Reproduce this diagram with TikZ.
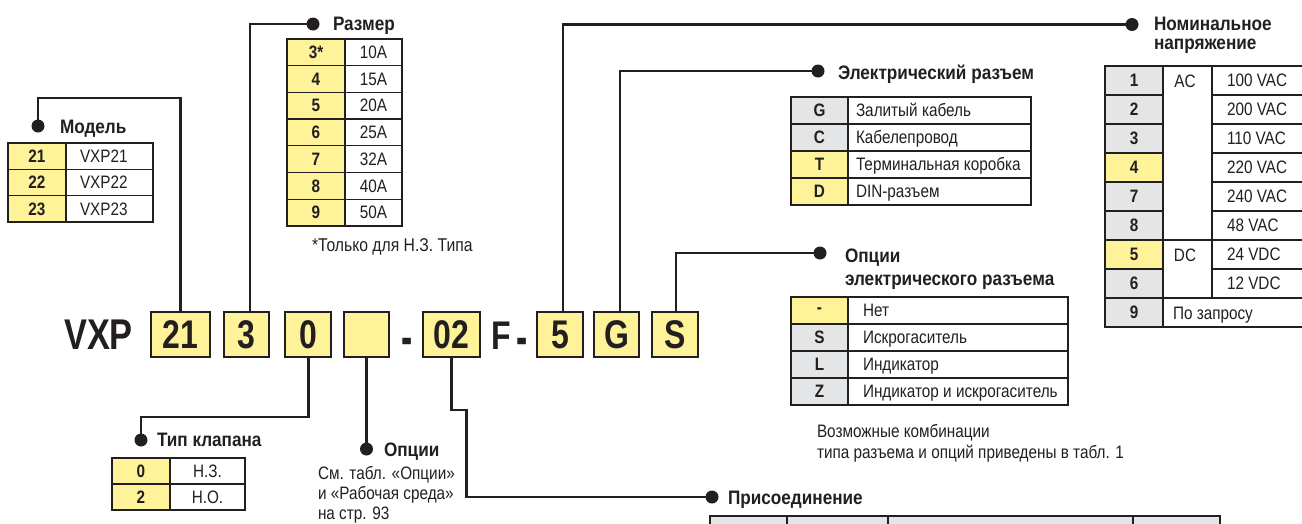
\documentclass[tikz,border=0pt]{standalone}
\usepackage{fontspec}
\setmainfont{Liberation Sans}
\newfontfamily\codef{Liberation Sans}[FakeStretch=0.8]
\newfontfamily\headf{Liberation Sans}[FakeStretch=0.88]
\newfontfamily\cellf{Liberation Sans}[FakeStretch=0.85]
\newcommand\hfnt{\headf\bfseries\fontsize{19.5}{21}\selectfont}
\newcommand\cfnt{\cellf\fontsize{18}{21}\selectfont}
\newcommand\nfnt{\cellf\fontsize{18.5}{21}\selectfont}
\newcommand\kfnt{\cellf\bfseries\fontsize{18}{21}\selectfont}
\newcommand\codefnt{\codef\bfseries\fontsize{40}{40}\selectfont}
\newcommand\vxpfnt{\codef\bfseries\fontsize{43}{43}\selectfont}
\definecolor{lc}{RGB}{35,31,32}
\definecolor{yel}{RGB}{255,243,154}
\definecolor{gry}{RGB}{228,229,230}
\tikzset{
  tcell/.style={draw=lc, line width=1.3pt, anchor=north west, inner sep=0pt, outer sep=0pt, font=\kfnt, text=lc},
  vcell/.style={tcell, fill=white, font=\cfnt},
  txt/.style={anchor=base west, inner sep=0pt, outer sep=0pt, font=\cfnt, text=lc},
  head/.style={anchor=base west, inner sep=0pt, outer sep=0pt, font=\hfnt, text=lc},
  codebox/.style={draw=lc, line width=2pt, fill=yel, anchor=north west, inner sep=0pt, outer sep=0pt, minimum height=45, font=\codefnt, text=lc},
  codetxt/.style={anchor=base, inner sep=0pt, outer sep=0pt, font=\codefnt, text=lc},
  conn/.style={draw=lc, line width=2.2pt},
  blob/.style={circle, fill=lc, minimum size=13, inner sep=0pt, outer sep=0pt},
}
\newcommand\tpad{14}
% name x0 x1 x2 y h fill key value
\newcommand\rowL[9]{%
  \node[tcell, fill=#7, minimum width={#3-#2}, minimum height=#6] (#1k) at (#2,#5) {#8};
  \node[vcell, minimum width={#4-#3}, minimum height=#6] (#1v) at (#3,#5) {};
  \node[txt] (#1t) at ([xshift=\tpad pt, yshift=-6.4pt]#1v.west) {#9};
}
\newcommand\rowC[9]{%
  \node[tcell, fill=#7, minimum width={#3-#2}, minimum height=#6] (#1k) at (#2,#5) {#8};
  \node[vcell, minimum width={#4-#3}, minimum height=#6] (#1v) at (#3,#5) {#9};
}
\begin{document}
\begin{tikzpicture}[x=1pt,y=-1pt]
\useasboundingbox (0,0) rectangle (1302,523);
\clip (0,0) rectangle (1302,523);

% ---------- main code ----------
\node[codetxt, font=\vxpfnt] (vxp) at (98.5,349) {VXP};
\node[codebox, minimum width=59] (b21) at (151,312) {21};
\node[codebox, minimum width=45] (b3) at (224,312) {3};
\node[codebox, minimum width=46] (b0) at (285,312) {0};
\node[codebox, minimum width=45] (bE) at (344,312) {};
\node[codetxt] (dash1) at (407.5,355) {\scalebox{1.05}[1.35]{-}};
\node[codebox, minimum width=57] (b02) at (423,312) {02};
\node[codetxt] (fF) at (501,349) {F};
\node[codetxt] (dash2) at (522.5,355) {\scalebox{1.05}[1.35]{-}};
\node[codebox, minimum width=46] (b5) at (537,312) {5};
\node[codebox, minimum width=45] (bG) at (594,312) {G};
\node[codebox, minimum width=46] (bS) at (652,312) {S};

% ---------- dots ----------
\node[blob] (dM) at (38,126) {};
\node[blob] (dS) at (313,24) {};
\node[blob] (dEl) at (818,71) {};
\node[blob] (dV) at (1132,24.5) {};
\node[blob] (dEO) at (820,253) {};
\node[blob] (dT) at (141,440) {};
\node[blob] (dO) at (366.5,449) {};
\node[blob] (dC) at (712,497) {};

% ---------- connectors ----------
\coordinate (cM) at (38,98);
\coordinate (cT) at (141,417);
\coordinate (cC) at (466.5,410);
\draw[conn] (b21.north) |- (cM) -- (dM);
\draw[conn] ([xshift=3.5pt]b3.north) |- (dS);
\draw[conn] ([xshift=0.5pt]b0.south) |- (cT) -- (dT);
\draw[conn] (bE.south) -- (dO);
\draw[conn] (b02.south) |- (cC) |- (dC);
\draw[conn] ([xshift=3pt]b5.north) |- (dV);
\draw[conn] ([xshift=3.5pt]bG.north) |- (dEl);
\draw[conn] ([xshift=1pt]bS.north) |- (dEO);

% ---------- headings ----------
\node[head] (hM) at (60,133) {Модель};
\node[head] (hS) at (333,30.7) {Размер};
\node[head] (hEl) at (838,79) {Электрический разъем};
\node[head] (hV1) at (1154,30.5) {Номинальное};
\node[head] (hV2) at (1154,49.5) {напряжение};
\node[head] (hEO1) at (845,262) {Опции};
\node[head] (hEO2) at (845,285) {электрического разъема};
\node[head] (hT) at (157,446) {Тип клапана};
\node[head] (hO) at (384,456) {Опции};
\node[head] (hC) at (728,504) {Присоединение};

% ---------- Model table ----------
\renewcommand\tpad{14}
\foreach \k/\v [count=\i from 0] in {21/VXP21,22/VXP22,23/VXP23}{
  \pgfmathsetmacro\yy{143+26.33*\i}
  \rowL{m\i}{8}{66}{153}{\yy}{26.33}{yel}{\k}{\v}
}

% ---------- Size table ----------
\foreach \k/\v [count=\i from 0] in {3*/10A,4/15A,5/20A,6/25A,7/32A,8/40A,9/50A}{
  \pgfmathsetmacro\yy{39+26.71*\i}
  \rowC{s\i}{287}{345}{402}{\yy}{26.71}{yel}{\k}{\v}
}
\node[txt, font=\nfnt] (sNote) at (312,251.5) {*Только для Н.З. Типа};

% ---------- Valve type table ----------
\foreach \k/\v [count=\i from 0] in {0/Н.З.,2/Н.О.}{
  \pgfmathsetmacro\yy{458+26*\i}
  \rowC{t\i}{112}{170}{245}{\yy}{26}{yel}{\k}{\v}
}

% ---------- Options note ----------
\node[txt] (oN1) at (318,479) {См. табл. «Опции»};
\node[txt] (oN2) at (318,499) {и «Рабочая среда»};
\node[txt] (oN3) at (318,519) {на стр. 93};

% ---------- Electrical connector table ----------
\renewcommand\tpad{8}
\foreach \f/\k/\v [count=\i from 0] in {gry/G/Залитый кабель,gry/C/Кабелепровод,yel/T/Терминальная коробка,yel/D/DIN-разъем}{
  \pgfmathsetmacro\yy{97+27*\i}
  \rowL{e\i}{791}{848}{1031}{\yy}{27}{\f}{\k}{\v}
}

% ---------- Electrical options table ----------
\renewcommand\tpad{15}
\foreach \f/\k/\v [count=\i from 0] in {yel/-/Нет,gry/S/Искрогаситель,gry/L/Индикатор,gry/Z/Индикатор и искрогаситель}{
  \pgfmathsetmacro\yy{297+27*\i}
  \rowL{o\i}{791}{848}{1068}{\yy}{27}{\f}{\k}{\v}
}
\node[txt] (eoN1) at (817,437) {Возможные комбинации};
\node[txt] (eoN2) at (817,458) {типа разъема и опций приведены в табл. 1};

% ---------- Voltage table ----------
\foreach \k/\f [count=\i from 0] in {1/gry,2/gry,3/gry,4/yel,7/gry,8/gry,5/yel,6/gry,9/gry}{
  \pgfmathsetmacro\yy{66+29*\i}
  \node[tcell, fill=\f, minimum width=58, minimum height=29] (vk\i) at (1105,\yy) {\k};
}
\foreach \v [count=\i from 0] in {100 VAC,200 VAC,110 VAC,220 VAC,240 VAC,48 VAC,24 VDC,12 VDC}{
  \pgfmathsetmacro\yy{66+29*\i}
  \node[vcell, minimum width=94, minimum height=29] (vv\i) at (1212,\yy) {};
  \node[txt] (vt\i) at ([xshift=15pt, yshift=-6.4pt]vv\i.west) {\v};
}
\node[vcell, minimum width=49, minimum height=174] (vAC) at (1163,66) {};
\node[txt, anchor=base] (vACt) at (1185,87) {AC};
\node[vcell, minimum width=49, minimum height=58] (vDC) at (1163,240) {};
\node[txt, anchor=base] (vDCt) at (1185,261) {DC};
\node[vcell, minimum width=143, minimum height=29] (v9) at (1163,298) {};
\node[txt] (v9t) at (1173,319) {По запросу};

% ---------- Connection table (top of it) ----------
\node[tcell, fill=gry, minimum width=77, minimum height=20] (p1) at (710,516) {};
\node[tcell, fill=gry, minimum width=101, minimum height=20] (p2) at (787,516) {};
\node[tcell, fill=gry, minimum width=245, minimum height=20] (p3) at (888,516) {};
\node[tcell, fill=gry, minimum width=87, minimum height=20] (p4) at (1133,516) {};
\end{tikzpicture}
\end{document}
